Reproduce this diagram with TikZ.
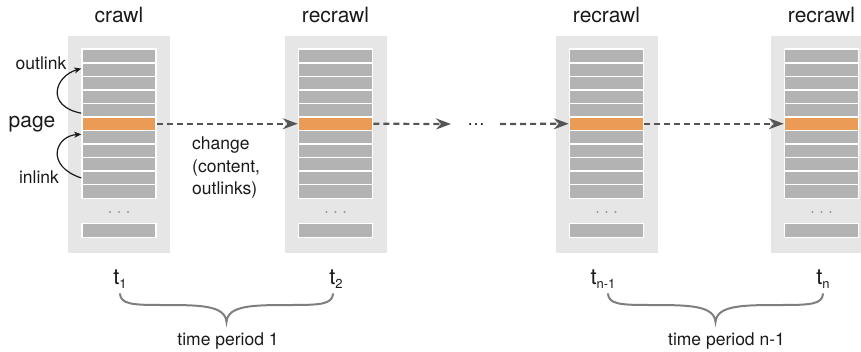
\documentclass[tikz,border=0pt]{standalone}
\usepackage{fontspec}
\setmainfont{TeX Gyre Heros}
\usetikzlibrary{arrows.meta}
\definecolor{panelgray}{HTML}{E6E6E6}
\definecolor{bargray}{HTML}{B3B3B3}
\definecolor{pageorange}{HTML}{EC9B57}
\definecolor{arrowgray}{HTML}{555555}
\definecolor{bracegray}{HTML}{7F7F7F}
\definecolor{dotgray}{HTML}{999999}
\definecolor{inkblack}{HTML}{1A1A1A}
\begin{document}
\begin{tikzpicture}[x=1pt,y=-1pt,
  panel/.style={rectangle,fill=panelgray,draw=none,minimum width=102pt,minimum height=217pt,inner sep=0pt},
  bar/.style={rectangle,fill=bargray,draw=white,line width=1.5pt,minimum width=74pt,minimum height=13.55pt,inner sep=0pt},
  pagebar/.style={bar,fill=pageorange},
  title/.style={anchor=base,inner sep=0pt,text=inkblack,font=\fontsize{21}{25}\selectfont},
  biglabel/.style={inner sep=0pt,text=inkblack,font=\fontsize{21}{25}\selectfont},
  smalllabel/.style={inner sep=0pt,text=inkblack,font=\fontsize{17.5}{21}\selectfont},
  smallbase/.style={smalllabel,anchor=base},
  tlabel/.style={anchor=base,inner sep=0pt,text=inkblack,font=\fontsize{22}{26}\selectfont},
  change/.style={draw=arrowgray,line width=2.2pt,dash pattern=on 6pt off 4pt,-{Stealth[length=15pt,width=11pt,inset=5pt]}},
  linkarrow/.style={draw=inkblack,line width=1.2pt,-{Stealth[length=7pt,width=6pt,inset=2pt]}},
  bracepath/.style={draw=bracegray,line width=2pt,line cap=round}
]
\useasboundingbox (0,0) rectangle (861,352);
\begin{scope}
\clip (0,0) rectangle (861,352);
\foreach \i/\cx/\ttl in {1/119/crawl,2/335.5/recrawl,3/606.5/recrawl,4/821.5/recrawl}{
  \node[panel] (panel\i) at (\cx,144.5) {};
  \foreach \j in {0,1,2,3,4,6,7,8,9,10}{
    \node[bar] (p\i-\j) at (\cx,{56+13.55*\j}) {};
  }
  \node[pagebar] (pg\i) at (\cx,123.75) {};
  \node[bar] (last\i) at (\cx,230.5) {};
  \foreach \dx in {-9,0,9}{
    \fill[dotgray] ({\cx+\dx},212) circle (1.2pt);
  }
  \node[title] (title\i) at (\cx,23) {\ttl};
}
\end{scope}

% labels left
\node[biglabel] (page) at (32,124) {page};
\node[smalllabel] (outlinklab) at (41,63) {outlink};
\node[smalllabel] (inlinklab) at (39,177) {inlink};

% outlink / inlink arrows
\draw[linkarrow] ([yshift=3pt]pg1.north west) .. controls (45,106) and (55,76) .. ([yshift=1pt]p1-1.west);
\draw[linkarrow] (p1-9.west) .. controls (45,166) and (55,136) .. ([yshift=-3pt]pg1.south west);

% change label
\node[smallbase,anchor=base west] (chg1) at (192,150) {change};
\node[smallbase,anchor=base west] (chg2) at (192,172.5) {(content,};
\node[smallbase,anchor=base west] (chg3) at (192,195) {outlinks)};

% dashed arrows
\coordinate (gapL) at (451,124);
\coordinate (gapR) at (500,124);
\node[smallbase] (ell) at (476,126) {\ldots};
\draw[change] (pg1.east) -- (pg2.west);
\draw[change] (pg2.east) -- (gapL);
\draw[change] (gapR) -- (pg3.west);
\draw[change] (pg3.east) -- (pg4.west);

% time labels
\newcommand{\tsub}[1]{t\raisebox{-4pt}{\fontsize{13}{13}\selectfont #1}}
\node[tlabel] (t1) at (120,284) {\tsub{1}};
\node[tlabel] (t2) at (336,284) {\tsub{2}};
\node[tlabel] (tn1) at (603,284) {\tsub{n-1}};
\node[tlabel] (tn) at (823,284) {\tsub{n}};

% braces
\draw[bracepath] (120,294) .. controls (121,304) and (132,305) .. (160,305)
  .. controls (200,305) and (225,305) .. (226.5,322)
  .. controls (228,305) and (253,305) .. (293,305)
  .. controls (321,305) and (332,304) .. (333,294);
\draw[bracepath] (608,294) .. controls (609,304) and (620,305) .. (648,305)
  .. controls (688,305) and (714,305) .. (715.5,322)
  .. controls (717,305) and (743,305) .. (783,305)
  .. controls (811,305) and (822,304) .. (823,294);

\node[smallbase] (period1) at (228,345) {time period 1};
\node[smallbase] (period2) at (726.5,345) {time period n-1};
\end{tikzpicture}
\end{document}
